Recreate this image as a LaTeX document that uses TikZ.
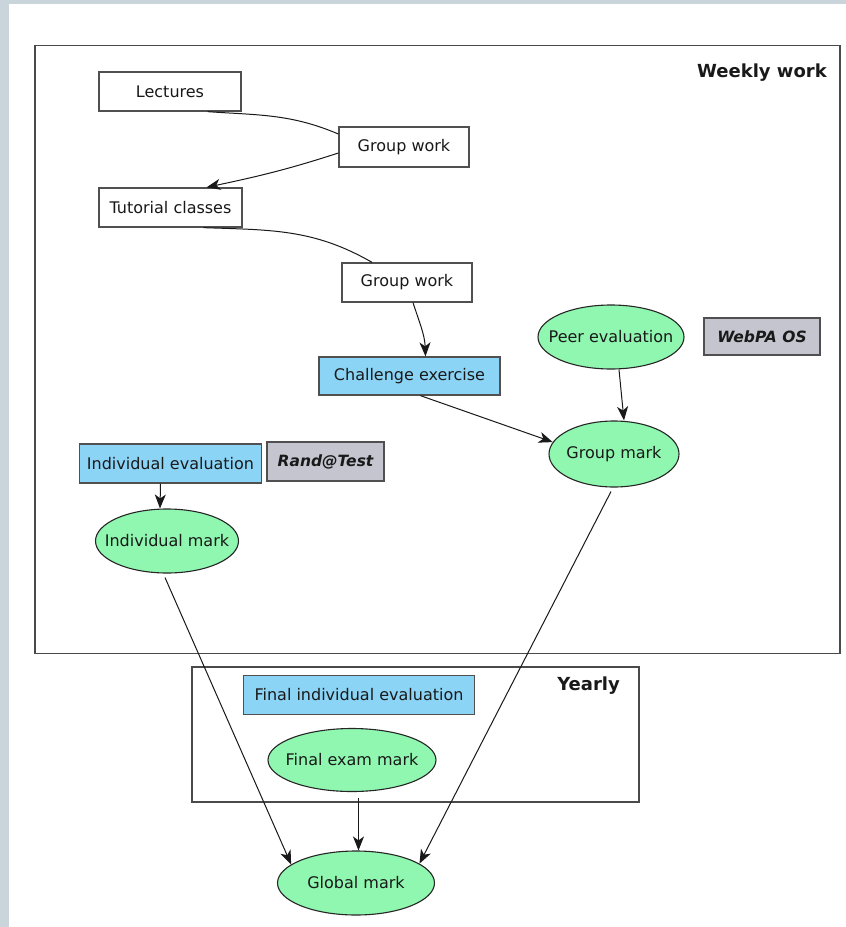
\documentclass[tikz,border=0pt]{standalone}
\usepackage{fontspec}
\setmainfont{DejaVu Sans}
\usetikzlibrary{shapes.geometric,arrows.meta}

\definecolor{slidebg}{HTML}{C9D4DB}
\definecolor{frameline}{HTML}{4A4A4A}
\definecolor{boxline}{HTML}{505050}
\definecolor{taskblue}{HTML}{8CD4F6}
\definecolor{markgreen}{HTML}{8FF7B0}
\definecolor{toolgray}{HTML}{C4C5CF}

\newcommand{\marktext}[1]{\makebox[0pt]{#1}}

\tikzset{
  frame/.style={draw=frameline, line width=1.8pt, rectangle, inner sep=0pt},
  framelabel/.style={font=\fontsize{18}{20}\selectfont\bfseries, text=black!90, inner sep=0pt},
  plainbox/.style={draw=boxline, line width=1.3pt, fill=white, rectangle, inner sep=0pt,
    font=\fontsize{16}{18}\selectfont, text=black!90},
  taskbox/.style={plainbox, fill=taskblue},
  toolbox/.style={plainbox, fill=toolgray, font=\fontsize{15.5}{18}\selectfont\bfseries\itshape},
  markell/.style={ellipse, draw=black!85, line width=1.1pt, fill=markgreen, inner sep=0pt,
    font=\fontsize{16}{18}\selectfont, text=black!90},
  link/.style={draw=black!90, line width=1pt},
  flow/.style={link, -{Stealth[length=14pt,width=11pt,inset=4pt]}},
}

\begin{document}
\begin{tikzpicture}[x=1pt,y=-1pt]
\useasboundingbox (0,0) rectangle (846,927);
\fill[white] (0,0) rectangle (846,927);
% slide background showing at the edges
\fill[slidebg] (0,0) rectangle (9,927);
\fill[slidebg] (0,0) rectangle (846,4);

% frames
\node[frame, minimum width=805, minimum height=608] (weekly) at (437.5,349.5) {};
\node[framelabel, anchor=east] (weeklylbl) at (827,73) {Weekly work};
\node[frame, minimum width=447, minimum height=135] (yearly) at (415.5,734.5) {};
\node[framelabel, anchor=east] (yearlylbl) at (620,686) {Yearly};

% weekly activities
\node[plainbox, minimum width=142, minimum height=39] (lect) at (170,91.5) {Lectures};
\node[plainbox, minimum width=130, minimum height=40] (gwa) at (404,147) {Group work};
\node[plainbox, minimum width=143, minimum height=39] (tut) at (170.5,207.5) {Tutorial classes};
\node[plainbox, minimum width=130, minimum height=39] (gwb) at (407,282.5) {Group work};
\node[taskbox, minimum width=181, minimum height=38] (chal) at (409.5,376) {Challenge exercise};
\node[markell, minimum width=146, minimum height=64] (peer) at (611,337) {\marktext{Peer evaluation}};
\node[toolbox, minimum width=116, minimum height=37] (webpa) at (762,336.5) {WebPA OS};
\node[markell, minimum width=130, minimum height=66] (gmark) at (614,454) {\marktext{Group mark}};
\node[taskbox, minimum width=182, minimum height=39] (ieval) at (170.5,463.5) {Individual evaluation};
\node[toolbox, minimum width=117, minimum height=39] (rand) at (325.5,461.5) {Rand@Test};
\node[markell, minimum width=143, minimum height=64] (imark) at (167,541) {\marktext{Individual mark}};

% yearly activities
\node[taskbox, minimum width=231, minimum height=39] (fieval) at (359,695) {Final individual evaluation};
\node[markell, minimum width=168, minimum height=63] (fexam) at (352,760) {\marktext{Final exam mark}};

% result
\node[markell, minimum width=157, minimum height=64] (glob) at (356,883) {\marktext{Global mark}};

% connectors
\draw[link] ([xshift=-34pt]lect.south east) to[out=-4,in=157] ([yshift=13pt]gwa.west);
\draw[flow] ([yshift=-6pt]gwa.west) to[out=198,in=12] ([xshift=36pt]tut.north);
\draw[link] ([xshift=33pt]tut.south) to[out=-2,in=150] ([xshift=-35pt]gwb.north);
\draw[flow] ([xshift=6pt]gwb.south) to[out=-72,in=92] ([xshift=16pt]chal.north);
\draw[flow] ([xshift=11pt]chal.south) -- (gmark.169);
\draw[flow] ([xshift=8pt]peer.south) -- ([xshift=10pt]gmark.north);
\draw[flow] ([xshift=-10pt]ieval.south) -- ([xshift=-7pt]imark.north);
\draw[flow] ([xshift=-2pt,yshift=-4pt]imark.south) -- (glob.164);
\draw[flow] ([xshift=-3pt,yshift=-4pt]gmark.south) -- (glob.17);
\draw[flow] ([xshift=6.5pt,yshift=-6pt]fexam.south) -- ([xshift=6.5pt]fexam.south |- glob.north);
\end{tikzpicture}
\end{document}
